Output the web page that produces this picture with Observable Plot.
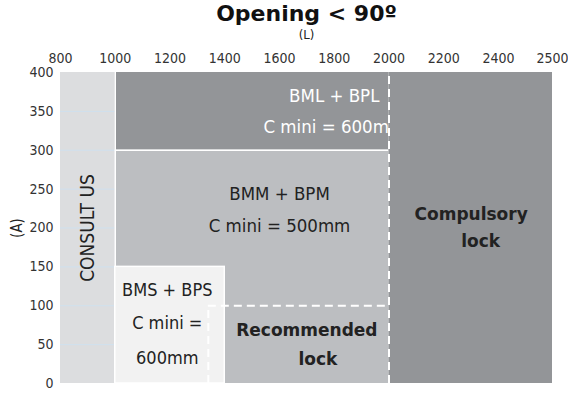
<!DOCTYPE html>
<html><head><meta charset="utf-8">
<script src="https://cdn.jsdelivr.net/npm/d3@7"></script>
<script src="https://cdn.jsdelivr.net/npm/@observablehq/plot@0.6"></script>
<style>
body{margin:0;background:#fff} svg{display:block}
svg.narrow{font-stretch:condensed}
svg.narrow g[font-weight="bold"], svg.narrow g[font-weight="bold"] text{font-stretch:normal}
</style>
</head><body><div id="chart"></div>
<script>
// ---- data ----
const titleText = "Opening < 90º";
const xLabel = "(L)";
const yLabel = "(A)";
const xTicks = [800, 1000, 1200, 1400, 1600, 1800, 2000, 2200, 2400, 2500];
const yTicks = [0, 50, 100, 150, 200, 250, 300, 350, 400];
const gridY = [50, 100, 150, 200, 250, 300, 350];

const zoneNames = ["consult", "bml", "bmm", "bms", "compulsory"];
const zoneX1 = [800, 1000, 1000, 1000, 2000];
const zoneX2 = [1000, 2000, 2000, 1400, 2500];
const zoneY1 = [0, 300, 0, 0, 0];
const zoneY2 = [400, 400, 300, 150, 400];

const lockX = 2000;        // compulsory lock boundary
const recX1 = 1340;        // recommended lock zone
const recY = 100;

const consultLabel = "CONSULT US";
const bmlLines = ["BML + BPL", "C mini = 600mm"], bmlX = [1800, 1800], bmlY = [370, 330];
const bmmLines = ["BMM + BPM", "C mini = 500mm"], bmmX = [1600, 1600], bmmY = [243, 202];
const bmsLines = ["BMS + BPS", "C mini =", "600mm"], bmsX = [1190, 1190, 1190], bmsY = [120, 77, 32];
const recLines = ["Recommended", "lock"], recX = [1700, 1740], recYs = [68, 31];
const compLines = ["Compulsory", "lock"], compX = [2300, 2335], compY = [217, 183];

// ---- tables ----
const zones = zoneNames.map((name, i) => ({name, x1: zoneX1[i], x2: zoneX2[i], y1: zoneY1[i], y2: zoneY2[i]}));
const rows = (lines, xs, ys) => lines.map((t, i) => ({t, x: xs[i], y: ys[i]}));
const byName = n => zones.filter(z => z.name === n);

const narrow = "'DejaVu Sans', sans-serif";
const bold = "'DejaVu Sans', sans-serif";

const chart = Plot.plot({
  width: 568, height: 393,
  marginTop: 72, marginBottom: 10, marginLeft: 60, marginRight: 16,
  className: "narrow",
  style: {fontFamily: narrow, fontSize: "14px", color: "#333", background: "white"},
  x: {type: "linear", domain: [800, 2400, 2500], range: [60, 498, 552]},
  y: {type: "linear", domain: [0, 400], range: [383, 72]},
  color: {type: "ordinal", domain: zoneNames, range: ["#dcdddf", "#939598", "#bcbec1", "#f2f2f2", "#939598"]},
  marks: [
    Plot.rect(byName("consult"), {x1: "x1", x2: "x2", y1: "y1", y2: "y2", fill: "name"}),
    Plot.ruleY(gridY, {x1: 800, x2: 1000, stroke: "#cfe0ee", strokeWidth: 1}),
    Plot.rect(byName("bml"), {x1: "x1", x2: "x2", y1: "y1", y2: "y2", fill: "name"}),
    Plot.rect(byName("bmm"), {x1: "x1", x2: "x2", y1: "y1", y2: "y2", fill: "name"}),
    Plot.ruleY([zoneY1[1]], {x1: zoneX1[1], x2: zoneX2[1], stroke: "white", strokeWidth: 1.5}),
    Plot.ruleX([zoneX1[1]], {y1: 0, y2: 400, stroke: "white", strokeWidth: 1.5}),
    Plot.rect(byName("bms"), {x1: "x1", x2: "x2", y1: "y1", y2: "y2", fill: "name", stroke: "white", strokeWidth: 1.5}),
    Plot.text(rows(bmlLines, bmlX, bmlY), {x: "x", y: "y", text: "t", fill: "white", fontSize: 18.5}),
    Plot.rect(byName("compulsory"), {x1: "x1", x2: "x2", y1: "y1", y2: "y2", fill: "name"}),
    Plot.ruleX([lockX], {y1: 0, y2: 400, stroke: "white", strokeWidth: 2, strokeDasharray: "8,5"}),
    Plot.ruleY([recY], {x1: recX1, x2: lockX, stroke: "white", strokeWidth: 2, strokeDasharray: "8,5"}),
    Plot.ruleX([recX1], {y1: 0, y2: recY, stroke: "white", strokeWidth: 2, strokeDasharray: "8,5"}),
    Plot.text(rows(bmmLines, bmmX, bmmY), {x: "x", y: "y", text: "t", fill: "#222", fontSize: 18.5}),
    Plot.text(rows(bmsLines, bmsX, bmsY), {x: "x", y: "y", text: "t", fill: "#222", fontSize: 18}),
    Plot.text(rows(recLines, recX, recYs), {x: "x", y: "y", text: "t", fill: "#222", fontSize: 17, fontWeight: "bold", fontFamily: bold}),
    Plot.text(rows(compLines, compX, compY), {x: "x", y: "y", text: "t", fill: "#222", fontSize: 17, fontWeight: "bold", fontFamily: bold}),
    Plot.text([consultLabel], {x: (zoneX1[0] + zoneX2[0]) / 2, y: 200, rotate: -90, fill: "#222", fontSize: 19}),
    Plot.axisX(xTicks, {anchor: "top", tickSize: 0, tickPadding: 10, label: null, fontSize: 14, fill: "#333", tickFormat: d => String(d)}),
    Plot.axisY(yTicks, {anchor: "left", tickSize: 0, tickPadding: 7, label: null, fontSize: 14, fill: "#333", tickFormat: d => String(d)}),
    Plot.text([titleText], {frameAnchor: "top", lineAnchor: "middle", dy: -59, fontSize: 22, fontWeight: "bold", fontFamily: bold, fill: "#111"}),
    Plot.text([xLabel], {frameAnchor: "top", lineAnchor: "middle", dy: -38, fontSize: 13, fill: "#222"}),
    Plot.text([yLabel], {frameAnchor: "left", textAnchor: "middle", lineAnchor: "middle", dx: -43, rotate: -90, fontSize: 15, fill: "#222"})
  ]
});
document.getElementById("chart").append(chart);
</script>
</body></html>
